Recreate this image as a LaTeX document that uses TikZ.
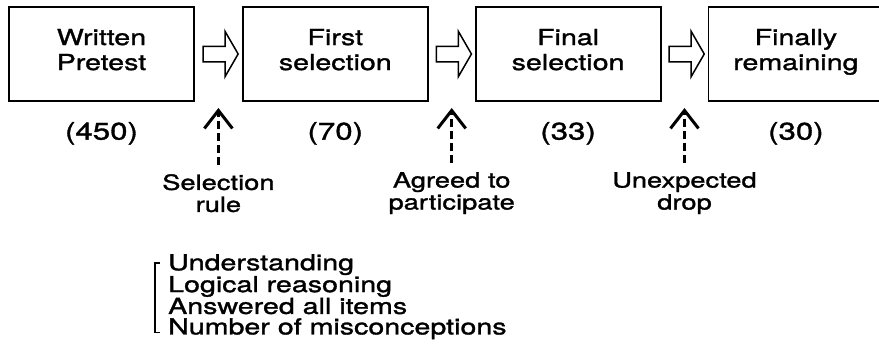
\documentclass[tikz,border=0pt]{standalone}
\usepackage{fontspec}
\setmainfont{TeX Gyre Heros}[FakeStretch=1.3,FakeBold=1.4]
\usetikzlibrary{positioning,arrows.meta,calc,shapes.arrows}

\begin{document}
\begin{tikzpicture}[
      x=1pt, y=1pt,
      >={Straight Barb[length=18pt,width=28pt]},
      auto
    ]

    \tikzstyle{box} = [rectangle, minimum width=185pt, minimum height=94pt, align=center, draw=black, line width=1.8pt, text depth=9pt, font=\fontsize{22}{25}\selectfont]

    \tikzstyle{openArrow} = [single arrow, draw=black, line width=1.5pt, inner sep=0pt, text height=7pt, text depth=7pt, minimum height=35pt, single arrow head extend=15pt, single arrow tip angle=120]

    \tikzstyle{count} = [inner sep=0pt, font=\fontsize{24}{26}\selectfont]

    \tikzstyle{note} = [inner sep=0pt, align=center, font=\fontsize{21}{22}\selectfont]

    \tikzstyle{dashArrow} = [->, line width=3pt, dash pattern=on 8pt off 4pt, shorten <=9pt]

    \useasboundingbox (0,0) rectangle (879,-348);

    \node [box] (pretest) at (101.5,-54) {
    	Written\\Pretest
        };
    \node [box] (firstSel) [right=47pt of pretest] {
    	First\\selection
        };
    \node [box] (finalSel) [right=46pt of firstSel] {
    	Final\\selection
        };
    \node [box, minimum width=175pt] (remain) [right=46pt of finalSel] {
    	Finally\\remaining
        };

    \node [openArrow] (arrOne) at ($(pretest.east)!0.5!(firstSel.west)$) {};
    \node [openArrow] (arrTwo) at ($(firstSel.east)!0.5!(finalSel.west)$) {};
    \node [openArrow] (arrThree) at ($(finalSel.east)!0.5!(remain.west)$) {};

    \node [count] (nPretest) [below=20pt of pretest] {(450)};
    \node [count] (nFirst) [below=20pt of firstSel] {(70)};
    \node [count] (nFinal) [below=20pt of finalSel] {(33)};
    \node [count] (nRemain) [below=20pt of remain] {(30)};

    \node [note] (selRule) [below=120pt of arrOne.center] {Selection\\rule};
    \node [note] (agreed) [below=118pt of arrTwo.center] {Agreed to\\participate};
    \node [note] (dropOut) [below=118pt of arrThree.center] {Unexpected\\drop};

    \coordinate (tipOne) at ($(selRule.north)+(0,66)$);
    \coordinate (tipTwo) at ($(agreed.north)+(0,64)$);
    \coordinate (tipThree) at ($(dropOut.north)+(0,64)$);

    \draw [dashArrow] (selRule) -- (tipOne);
    \draw [dashArrow] (agreed) -- (tipTwo);
    \draw [dashArrow] (dropOut) -- (tipThree);

    \node [note, align=left, font=\fontsize{22}{20.5}\selectfont, anchor=north west] (criteria) at (168,-254) {
    	Understanding\\Logical reasoning\\Answered all items\\Number of misconceptions
        };
    \draw [line width=1.6pt] ($(criteria.north west)+(-8,-9)$) -- ++(-5,0) |- ($(criteria.south west)+(-8,7)$);

\end{tikzpicture}
\end{document}
